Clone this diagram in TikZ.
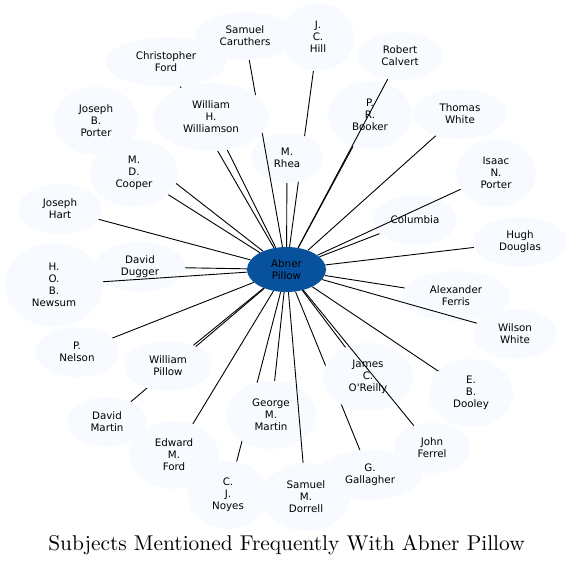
\documentclass[tikz,border=0pt]{standalone}
\usepackage{fontspec}
\usepackage{graphicx}
\newfontfamily\nodefont{DejaVu Sans}
\usetikzlibrary{shapes.geometric}
\definecolor{nodefill}{HTML}{F7FBFF}
\definecolor{hubfill}{HTML}{08519C}
\pgfdeclarelayer{ebottom}
\pgfdeclarelayer{under}
\pgfdeclarelayer{etop}
\pgfsetlayers{ebottom,under,etop,main}
\begin{document}
\begin{tikzpicture}[x=1pt,y=-1pt,
  ent/.style={ellipse, fill=nodefill, inner sep=0pt, align=center,
    font=\nodefont\fontsize{10.3}{12}\selectfont},
  hub/.style={ent, fill=hubfill},
  link/.style={draw=black, line width=0.9pt}]
\useasboundingbox (0,0) rectangle (573,567);
% under nodes (edges may pass over them)
\begin{pgfonlayer}{under}
\node[ent, minimum width=84, minimum height=68] (prb) at (370,115) {P.\\R.\\Booker};
\node[ent, minimum width=84, minimum height=50] (col) at (415,220) {Columbia};
\node[ent, minimum width=90, minimum height=50] (dd) at (140,267) {David\\Dugger};
\node[ent, minimum width=108, minimum height=50] (af) at (456,296) {Alexander\\Ferris};
\node[ent, minimum width=90, minimum height=68] (jco) at (368,377) {James\\C.\\O'Reilly};
\node[ent, minimum width=90, minimum height=68] (gmm) at (271,415) {George\\M.\\Martin};
\node[ent, minimum width=72, minimum height=50] (mr) at (287,158) {M.\\Rhea};
\end{pgfonlayer}
% top nodes
\node[ent, minimum width=120, minimum height=50] (cf) at (166,62) {Christopher\\Ford};
\node[ent, minimum width=100, minimum height=48] (sc) at (245,36) {Samuel\\Caruthers};
\node[ent, minimum width=72, minimum height=68] (jch) at (318,37) {J.\\C.\\Hill};
\node[ent, minimum width=84, minimum height=48] (rc) at (400,56) {Robert\\Calvert};
\node[ent, minimum width=84, minimum height=68] (jbp) at (96,121) {Joseph\\B.\\Porter};
\node[ent, minimum width=116, minimum height=68] (whw) at (211,117) {William\\H.\\Williamson};
\node[ent, minimum width=94, minimum height=50] (tw) at (460,114) {Thomas\\White};
\node[ent, minimum width=88, minimum height=68] (mdc) at (134,173) {M.\\D.\\Cooper};
\node[ent, minimum width=80, minimum height=68] (inp) at (496,173) {Isaac\\N.\\Porter};
\node[ent, minimum width=84, minimum height=50] (jh) at (60,209) {Joseph\\Hart};
\node[ent, minimum width=94, minimum height=50] (hd) at (520,242) {Hugh\\Douglas};
\node[ent, minimum width=98, minimum height=84] (hob) at (54,285) {H.\\O.\\B.\\Newsum};
\node[ent, minimum width=84, minimum height=50] (ww) at (515,334) {Wilson\\White};
\node[ent, minimum width=84, minimum height=50] (pn) at (77,352) {P.\\Nelson};
\node[ent, minimum width=88, minimum height=50] (wp) at (168,366) {William\\Pillow};
\node[ent, minimum width=84, minimum height=68] (ebd) at (471,393) {E.\\B.\\Dooley};
\node[ent, minimum width=80, minimum height=50] (dm) at (107,422) {David\\Martin};
\node[ent, minimum width=76, minimum height=50] (jf) at (432,448) {John\\Ferrel};
\node[ent, minimum width=90, minimum height=68] (emf) at (174,455) {Edward\\M.\\Ford};
\node[ent, minimum width=104, minimum height=50] (gg) at (370,475) {G.\\Gallagher};
\node[ent, minimum width=80, minimum height=68] (cjn) at (228,495) {C.\\J.\\Noyes};
\node[ent, minimum width=88, minimum height=68] (smd) at (306,497) {Samuel\\M.\\Dorrell};
\node[hub, minimum width=79, minimum height=45] (hub) at (286.5,269.5) {Abner\\Pillow};
% edges hidden under the "under" nodes
\begin{pgfonlayer}{ebottom}
\draw[link] (hub) -- (gg);
\draw[link] (hub) -- (cjn);
\draw[link] (hub) -- (jch);
\end{pgfonlayer}
% other edges
\begin{pgfonlayer}{etop}
\foreach \t in {sc,cf,rc,jbp,whw,prb,tw,mr,mdc,inp,jh,col,hd,dd,hob,af,ww,pn,wp,jco,ebd,dm,gmm,jf,emf,smd}
  \draw[link] (hub) -- (\t);
\end{pgfonlayer}
\node (title) at (286.5,545) {\scalebox{2.14}{Subjects Mentioned Frequently With Abner Pillow}};
\end{tikzpicture}
\end{document}
